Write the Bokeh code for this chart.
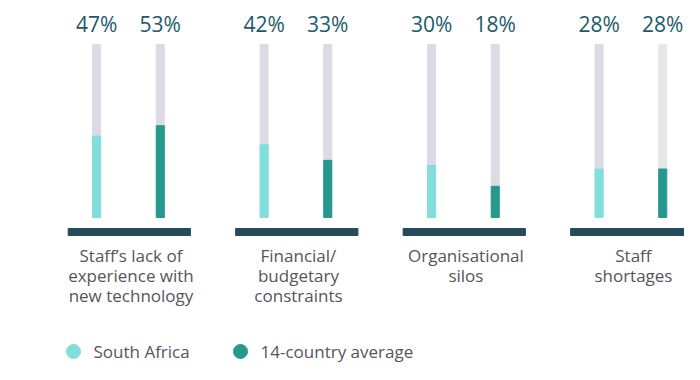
from bokeh.plotting import figure
from bokeh.models import Range1d
from bokeh.core.properties import value
from bokeh.embed import file_html
from bokeh.resources import INLINE

categories = ["Staff\u2019s lack of\nexperience with\nnew technology",
              "Financial/\nbudgetary\nconstraints",
              "Organisational\nsilos",
              "Staff\nshortages"]
south_africa = [47, 42, 30, 28]
country_avg = [53, 33, 18, 28]
series_names = ["South Africa", "14-country average"]

W, H = 684, 364
X0, X1 = -0.764, 3.32
Y0, Y1 = -85.0, 125.4
def px_x(px):
    return X0 + px / W * (X1 - X0)
def py_y(py):
    return Y1 - py / H * (Y1 - Y0)

LIGHT = "#80dfdc"
DARK = "#25998d"
GREY = "#dcdbe4"
GREY2 = "#e7e7e9"
BASE = "#244c5a"
PCT = "#1c5b69"
LABEL = "#55555c"

p = figure(width=W, height=H, output_backend="svg", toolbar_location=None,
           x_range=Range1d(X0, X1), y_range=Range1d(Y0, Y1), min_border=0)
p.axis.visible = False
p.grid.visible = False
p.outline_line_color = None
p.background_fill_color = "white"
p.border_fill_color = "white"

n = len(categories)
xs = list(range(n))
off = 0.19
bw = 0.048
x1 = [x - off for x in xs]
x2 = [x + off for x in xs]

bg_colors2 = [GREY, GREY, GREY, GREY2]
p.vbar(x=x1, top=[100] * n, bottom=0, width=bw, color=GREY)
p.vbar(x=x2, top=[100] * n, bottom=0, width=bw, color=bg_colors2)
p.vbar(x=x1, top=south_africa, bottom=0, width=bw, color=LIGHT)
p.vbar(x=x2, top=country_avg, bottom=0, width=bw, color=DARK)

# baselines
p.vbar(x=[x + 0.005 for x in xs], top=py_y(228), bottom=py_y(235), width=0.73, color=BASE)

# percent labels
p.text(x=x1, y=[py_y(23.5)] * n, text=[f"{v}%" for v in south_africa],
       text_align="center", text_baseline="middle", text_color=PCT,
       text_font=value("Open Sans"), text_font_size="21px")
p.text(x=x2, y=[py_y(23.5)] * n, text=[f"{v}%" for v in country_avg],
       text_align="center", text_baseline="middle", text_color=PCT,
       text_font=value("Open Sans"), text_font_size="21px")

# category labels
p.text(x=[x + 0.015 for x in xs], y=[py_y(243)] * n, text=categories,
       text_align="center", text_baseline="top", text_color=LABEL,
       text_font=value("Open Sans"), text_font_size="17px", text_line_height=0.88)

# legend
lx = [px_x(73), px_x(240)]
ly = py_y(351)
p.scatter(x=lx, y=[ly, ly], size=14, color=[LIGHT, DARK], marker="circle")
p.text(x=[px_x(93), px_x(260)], y=[ly, ly], text=series_names,
       text_align="left", text_baseline="middle", text_color=LABEL,
       text_font=value("Open Sans"), text_font_size="17px")

open("out.html", "w").write(file_html(p, INLINE))
